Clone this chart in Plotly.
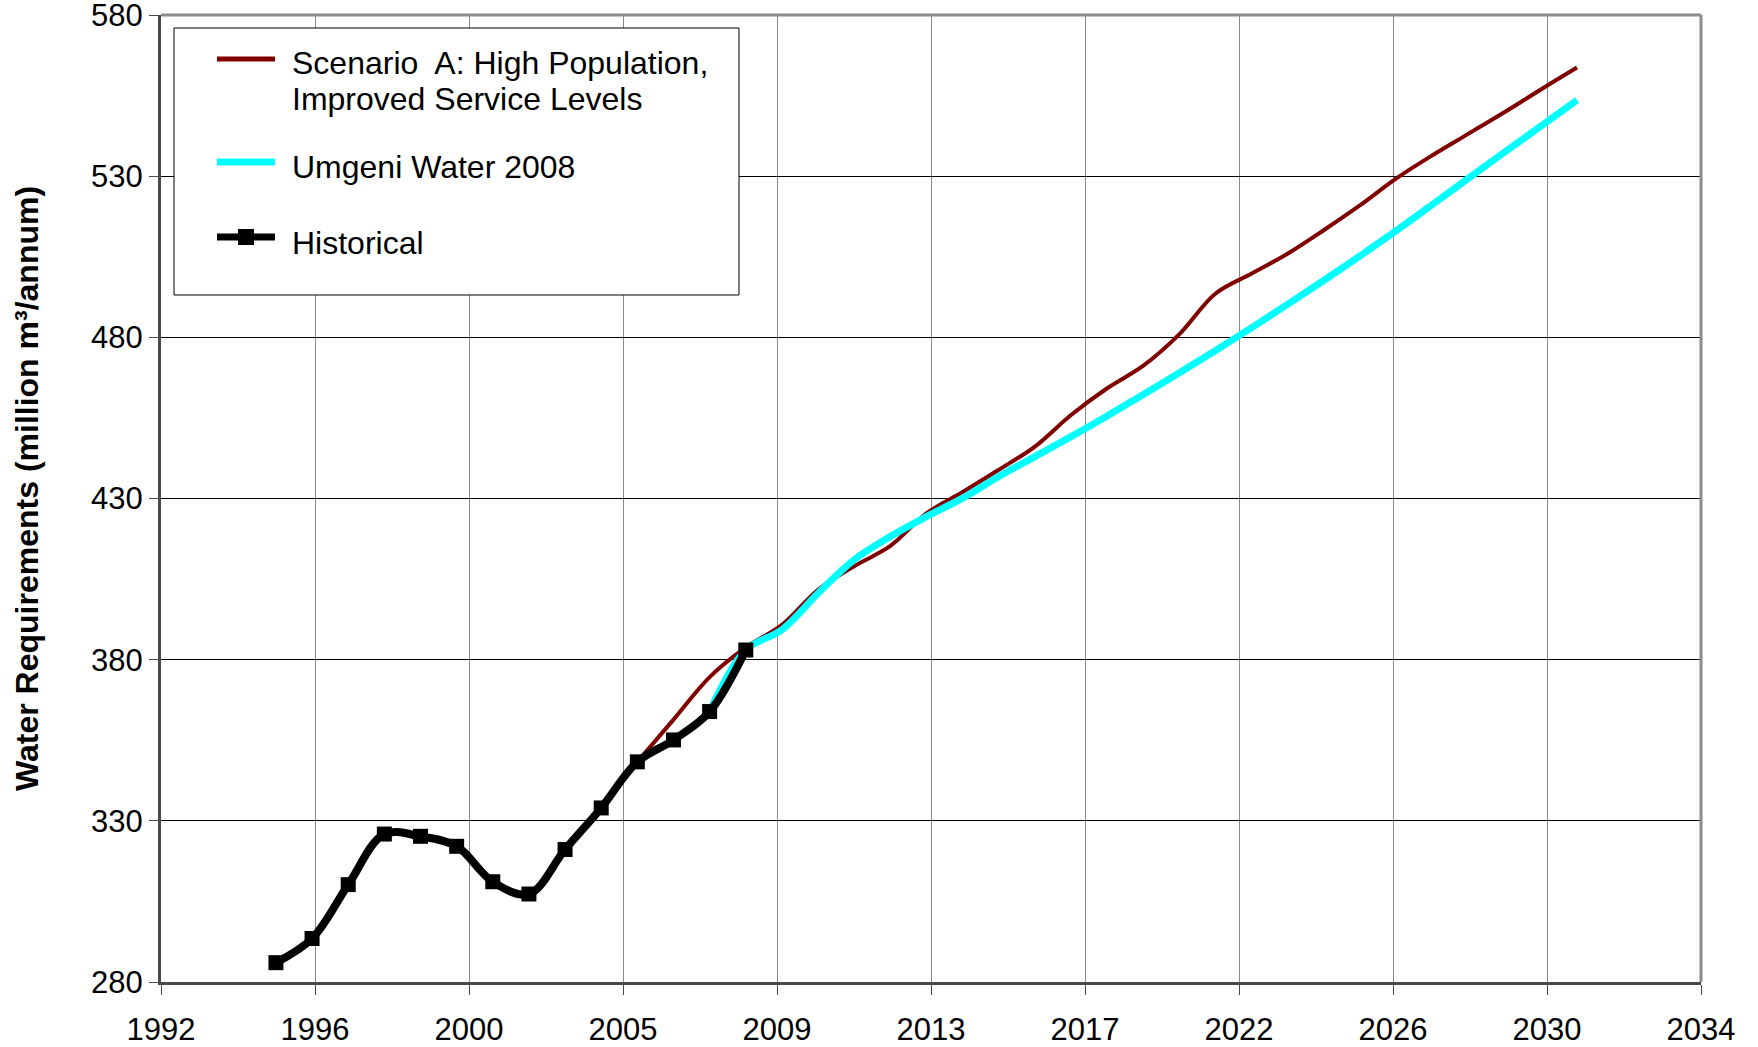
import numpy as np
import plotly.graph_objects as go

# ---------------- data ----------------
hist_years = list(range(1995, 2009))
hist_values = [286.0, 293.5, 310.2, 325.9, 325.2, 322.1, 311.1, 307.3, 321.1,
               334.0, 348.3, 355.1, 363.9, 383.0]

scen_years = list(range(2005, 2032))
scen_values = [348.3, 361.4, 374.6, 383.8, 390.8, 401.7, 409.0, 415.3, 425.4,
               432.0, 438.9, 446.1, 455.9, 464.2, 471.2, 481.0, 493.6, 499.8,
               506.0, 513.3, 521.0, 529.3, 536.5, 543.2, 549.9, 556.9, 563.7]

umg_years = list(range(2007, 2032))
umg_values = [364.0, 383.0, 389.3, 400.6, 411.0, 418.2, 424.4, 430.1, 436.8,
              443.0, 449.2, 455.6, 462.3, 469.0, 475.9, 483.0, 490.3, 497.7,
              505.3, 513.1, 521.2, 529.4, 537.5, 545.5, 553.6]

x_tick_labels = ["1992", "1996", "2000", "2005", "2009", "2013", "2017",
                 "2022", "2026", "2030", "2034"]
y_ticks = [280, 330, 380, 430, 480, 530, 580]

series_names = ["Scenario  A: High Population,", "Improved Service Levels",
                "Umgeni Water 2008", "Historical"]
y_title = "Water Requirements (million m³/annum)"

# ---------------- layout geometry ----------------
W, H = 1758, 1047
L, R, T, B = 161, 1701, 15, 982
x_range = [1991.82, 2034.43]
FONT = "Liberation Sans, Arial, Helvetica, sans-serif"


def px(x):
    return (x - L) / (R - L)


def py(y):
    return (B - y) / (B - T)


fig = go.Figure()

fig.add_trace(go.Scatter(
    x=scen_years, y=scen_values, mode="lines", name=series_names[0] + " " + series_names[1],
    line=dict(color="#800000", width=4, shape="spline", smoothing=1.0),
    showlegend=False))

fig.add_trace(go.Scatter(
    x=umg_years, y=umg_values, mode="lines", name=series_names[2],
    line=dict(color="#00FFFF", width=7, shape="spline", smoothing=1.0),
    showlegend=False))

fig.add_trace(go.Scatter(
    x=hist_years, y=hist_values, mode="lines+markers", name=series_names[3],
    line=dict(color="#000000", width=8, shape="spline", smoothing=1.0),
    marker=dict(symbol="square", size=15, color="#000000"),
    showlegend=False))

tickvals = list(np.linspace(x_range[0], x_range[1], len(x_tick_labels)))

fig.update_xaxes(
    range=x_range, tickmode="array", tickvals=tickvals, ticktext=x_tick_labels,
    showgrid=True, gridcolor="#8a8a8a", gridwidth=1,
    showline=True, linecolor="#4a4a4a", linewidth=3,
    ticks="outside", ticklen=10, tickcolor="#4a4a4a", tickwidth=1,
    tickfont=dict(family=FONT, size=31, color="#000000"),
    ticklabelstandoff=8, ticklabeloverflow="allow",
    zeroline=False, automargin=False)

fig.update_yaxes(
    range=[280, 580], tickmode="array", tickvals=y_ticks,
    showgrid=True, gridcolor="#000000", gridwidth=1,
    showline=True, linecolor="#4a4a4a", linewidth=3,
    ticks="outside", ticklen=9, tickcolor="#4a4a4a", tickwidth=1,
    tickfont=dict(family=FONT, size=31, color="#000000"),
    ticklabelstandoff=0, ticklabeloverflow="allow",
    zeroline=False, automargin=False)

shapes = []
# top and right frame
shapes.append(dict(type="line", xref="paper", yref="paper", x0=0, x1=1, y0=1, y1=1,
                   line=dict(color="#8c8c8c", width=3), layer="above"))
shapes.append(dict(type="line", xref="paper", yref="paper", x0=1, x1=1, y0=0, y1=1,
                   line=dict(color="#8c8c8c", width=3), layer="above"))
# legend box
shapes.append(dict(type="rect", xref="paper", yref="paper",
                   x0=px(174), x1=px(739), y0=py(295), y1=py(28),
                   line=dict(color="#000000", width=1), fillcolor="#ffffff", layer="above"))
# legend symbols
shapes.append(dict(type="line", xref="paper", yref="paper",
                   x0=px(217), x1=px(275), y0=py(59), y1=py(59),
                   line=dict(color="#800000", width=5), layer="above"))
shapes.append(dict(type="line", xref="paper", yref="paper",
                   x0=px(217), x1=px(275), y0=py(162), y1=py(162),
                   line=dict(color="#00FFFF", width=7), layer="above"))
shapes.append(dict(type="line", xref="paper", yref="paper",
                   x0=px(217), x1=px(275), y0=py(237), y1=py(237),
                   line=dict(color="#000000", width=7), layer="above"))
shapes.append(dict(type="rect", xref="paper", yref="paper",
                   x0=px(238), x1=px(254), y0=py(245), y1=py(229),
                   line=dict(color="#000000", width=0), fillcolor="#000000", layer="above"))

annotations = []
leg_text_y = [63, 99, 167, 243]
for name, ty in zip(series_names, leg_text_y):
    annotations.append(dict(
        xref="paper", yref="paper", x=px(290), y=py(ty), xanchor="left", yanchor="middle",
        text=name, showarrow=False, font=dict(family=FONT, size=32, color="#000000")))

annotations.append(dict(
    xref="paper", yref="paper", x=px(27), y=py(489), xanchor="center", yanchor="middle",
    text="<b>" + y_title + "</b>", textangle=-90, showarrow=False,
    font=dict(family=FONT, size=32, color="#000000")))

fig.update_layout(
    width=W, height=H,
    margin=dict(l=L, r=W - R, t=T, b=H - B, autoexpand=False),
    paper_bgcolor="#ffffff", plot_bgcolor="#ffffff",
    shapes=shapes, annotations=annotations, showlegend=False,
    font=dict(family=FONT))

fig.write_html(
    "out.html",
    config={"displayModeBar": False},
    post_script="document.body.style.margin='0';document.body.style.overflow='hidden';")
